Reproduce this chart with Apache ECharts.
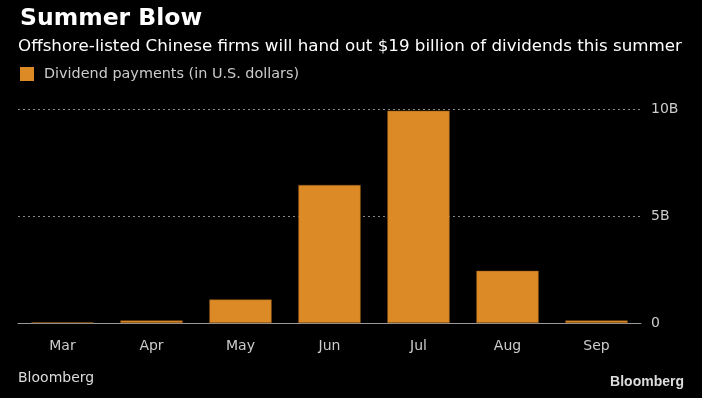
<!DOCTYPE html>
<html>
<head>
<meta charset="utf-8">
<script src="https://cdn.jsdelivr.net/npm/echarts@6/dist/echarts.min.js"></script>
<style>
  html, body { margin: 0; padding: 0; background: #000; }
  #summerBlowChart { width: 702px; height: 398px; }
</style>
</head>
<body>
<div id="summerBlowChart"></div>
<script>
// dividend payments by month, in billions of USD
const months = ['Mar', 'Apr', 'May', 'Jun', 'Jul', 'Aug', 'Sep'];
const dividendValues = [0.03, 0.12, 1.1, 6.45, 9.92, 2.44, 0.12];
const yTicks = [0, 5, 10];

const font = '"DejaVu Sans", sans-serif';

const chart = echarts.init(document.getElementById('summerBlowChart'));
chart.setOption({
  backgroundColor: '#000',
  animation: false,
  title: [
    {
      text: 'Summer Blow',
      left: 15,
      top: 2,
      textStyle: { color: '#fff', fontSize: 23.5, fontWeight: 'bold', fontFamily: font }
    },
    {
      text: 'Offshore-listed Chinese firms will hand out $19 billion of dividends this summer',
      left: 13,
      top: 33,
      textStyle: { color: '#fff', fontSize: 16.7, fontWeight: 'normal', fontFamily: font }
    },
    {
      text: 'Bloomberg',
      left: 13,
      top: 366,
      textStyle: { color: '#ddd', fontSize: 14, fontWeight: 'normal', fontFamily: font }
    },
    {
      text: 'Bloomberg',
      right: 13,
      top: 370,
      textStyle: { color: '#ddd', fontSize: 14, fontWeight: 'bold', fontFamily: '"Liberation Sans", Arial, sans-serif' }
    }
  ],
  legend: {
    left: 15,
    top: 62,
    icon: 'rect',
    itemWidth: 14,
    itemHeight: 14,
    itemGap: 10,
    itemStyle: { borderWidth: 0 },
    textStyle: { color: '#ccc', fontSize: 14.4, fontFamily: font, padding: [0, 0, 0, 5] },
    data: ['Dividend payments (in U.S. dollars)']
  },
  grid: {
    left: 18,
    right: 61,
    top: 109,
    bottom: 75
  },
  xAxis: {
    type: 'category',
    data: months,
    axisLine: { lineStyle: { color: '#999', width: 1 } },
    axisTick: { alignWithLabel: true, length: 6, lineStyle: { color: '#ccc' } },
    axisLabel: { color: '#ccc', fontSize: 14, margin: 16, fontFamily: font }
  },
  yAxis: {
    type: 'value',
    position: 'right',
    min: 0,
    max: yTicks[yTicks.length - 1],
    interval: 5,
    axisLine: { show: false },
    axisTick: { show: false },
    axisLabel: {
      color: '#ccc',
      fontSize: 14,
      margin: 10,
      fontFamily: font,
      formatter: v => (v === 0 ? '0' : v + 'B')
    },
    splitLine: { lineStyle: { color: '#888', type: [2, 3], width: 1 } }
  },
  series: [{
    name: 'Dividend payments (in U.S. dollars)',
    type: 'bar',
    data: dividendValues,
    barCategoryGap: '30%',
    itemStyle: { color: '#dc8a26', borderColor: '#8a5519', borderWidth: 0.5 }
  }]
});
</script>
</body>
</html>
